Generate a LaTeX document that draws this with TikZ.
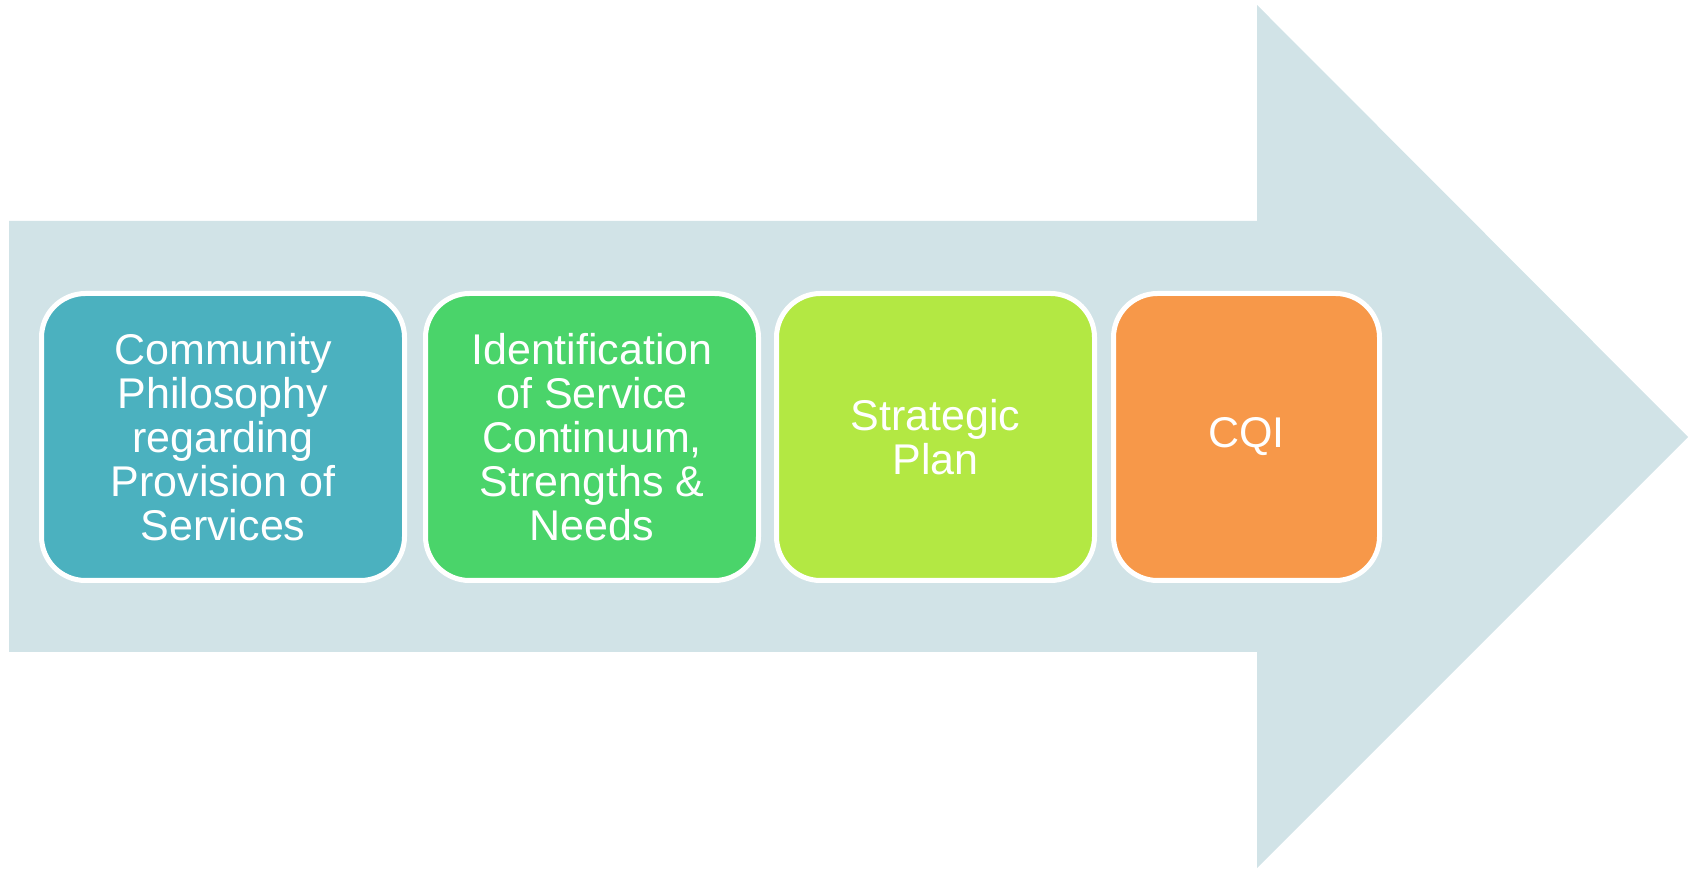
\documentclass[tikz,border=0pt]{standalone}
\usepackage{fontspec}
\setmainfont{Liberation Sans}
\usepackage{tikz}

\definecolor{ArrowGrey}{HTML}{D1E3E7}
\definecolor{StageTeal}{HTML}{4BB1BF}
\definecolor{StageGreen}{HTML}{4AD46A}
\definecolor{StageLime}{HTML}{B3E843}
\definecolor{StageOrange}{HTML}{F79849}

\begin{document}
\begin{tikzpicture}[x=0.5pt, y=-0.5pt,
  stage/.style={draw=white, line width=2.5pt, rounded corners=22pt,
    text=white, align=center, inner sep=0pt, outer sep=0pt,
    minimum height=143.5pt, font=\fontsize{21.5}{22}\selectfont}]
\useasboundingbox (0,0) rectangle (1696,870);
% Big arrow behind the stages
    \fill[ArrowGrey] (9,221) -- (1257,221) -- (1257,5) -- (1688,437)
      -- (1257,868) -- (1257,652) -- (9,652) -- cycle;
% Stage 1
    \node[stage, fill=StageTeal, minimum width=181.5pt] (philosophy) at (223,437)
      {Community\\Philosophy\\regarding\\Provision of\\Services};
% Stage 2
    \node[stage, fill=StageGreen, minimum width=166.5pt] (continuum) at (592,437)
      {Identification\\of Service\\Continuum,\\Strengths \&\\Needs};
% Stage 3
    \node[stage, fill=StageLime, minimum width=159pt] (plan) at (935.5,437)
      {Strategic\\Plan};
% Stage 4
    \node[stage, fill=StageOrange, minimum width=133pt] (cqi) at (1246.5,437)
      {CQI};
\end{tikzpicture}
\end{document}
